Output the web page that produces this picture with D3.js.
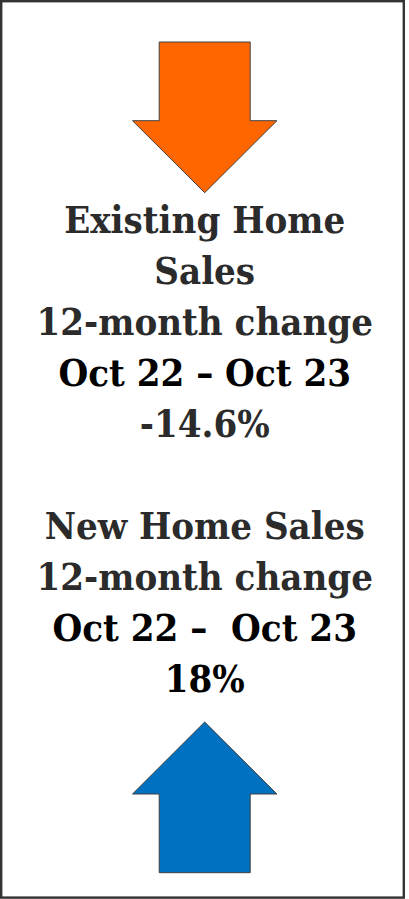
<!DOCTYPE html>
<html>
<head>
<meta charset="utf-8">
<script src="https://cdn.jsdelivr.net/npm/d3@7"></script>
<style>
  html, body { margin: 0; padding: 0; background: #fff; }
  svg { display: block; }
  text { white-space: pre; }
</style>
</head>
<body>
<svg id="chart"></svg>
<script>
// data
const titles = ['Existing Home Sales', 'New Home Sales'];
const titleLines = [['Existing Home', 'Sales'], ['New Home Sales']];
const periodLabel = '12-month change';
const periodRanges = ['Oct 22 \u2013 Oct 23', 'Oct 22 \u2013  Oct 23'];
const changes = [-14.6, 18];

const W = 409, H = 899;
const ARROW_COLORS = { down: '#FF6600', up: '#0070C0' };
const CX = 204.7;

const svg = d3.select('#chart')
  .attr('width', W)
  .attr('height', H);

svg.append('rect')
  .attr('x', 1.2).attr('y', 1.2)
  .attr('width', 402.6).attr('height', 896.4)
  .attr('fill', '#fff')
  .attr('stroke', '#333')
  .attr('stroke-width', 2.4);

// build text rows, one slot left blank between the two blocks
const rows = [];
changes.forEach((v, i) => {
  titleLines[i].forEach(t => rows.push({ text: t, strong: false }));
  rows.push({ text: periodLabel, strong: false });
  rows.push({ text: periodRanges[i], strong: true });
  rows.push({ text: `${v}%`, strong: v > 0 });
  if (i === 0) rows.push(null);
});

const y = d3.scaleLinear()
  .domain([0, rows.length - 1])
  .range([232.7, 691.7]);

svg.append('g')
  .selectAll('text')
  .data(rows.map((r, i) => r && { ...r, i }).filter(Boolean))
  .join('text')
    .attr('x', CX)
    .attr('y', d => y(d.i))
    .attr('text-anchor', 'middle')
    .attr('font-family', '"DejaVu Serif Condensed", "DejaVu Serif", serif')
    .attr('font-stretch', 'condensed')
    .attr('font-weight', 'bold')
    .attr('font-size', 38)
    .attr('fill', d => d.strong ? '#000' : '#2b2b2b')
    .text(d => d.text);

// arrows: direction from sign of change
const arrowY = d3.scaleLinear().domain([0, 1]).range([42, 872.7]);
const ARROW_LEN = 150.7, HEAD_LEN = 72, SHAFT_HW = 45.5, HEAD_HW = 72.2;

function arrowPath(dir) {
  // dir = 1 points down from y=0, dir = -1 points up
  const p = d3.path();
  const pts = [
    [-SHAFT_HW, 0], [SHAFT_HW, 0],
    [SHAFT_HW, ARROW_LEN - HEAD_LEN], [HEAD_HW, ARROW_LEN - HEAD_LEN],
    [0, ARROW_LEN],
    [-HEAD_HW, ARROW_LEN - HEAD_LEN], [-SHAFT_HW, ARROW_LEN - HEAD_LEN]
  ];
  pts.forEach(([px, py], k) => k ? p.lineTo(px, py * dir) : p.moveTo(px, py * dir));
  p.closePath();
  return p.toString();
}

svg.append('g')
  .selectAll('path')
  .data(changes)
  .join('path')
    .attr('transform', (d, i) => `translate(${CX},${arrowY(i)})`)
    .attr('d', d => arrowPath(d < 0 ? 1 : -1))
    .attr('fill', d => d < 0 ? ARROW_COLORS.down : ARROW_COLORS.up)
    .attr('stroke', '#404040')
    .attr('stroke-width', 1);
</script>
</body>
</html>
